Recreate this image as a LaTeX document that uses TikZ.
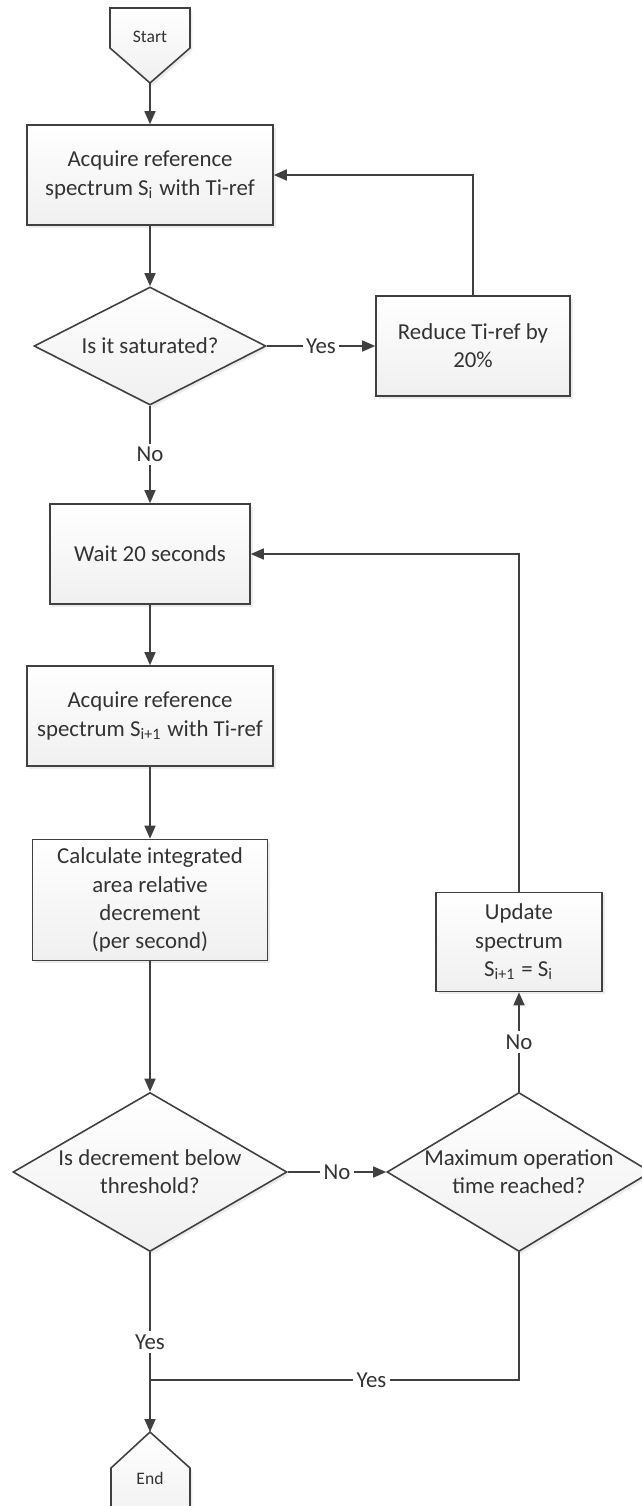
\documentclass[tikz,border=0pt]{standalone}
\usepackage{fontspec}
\setmainfont{Carlito}
\usetikzlibrary{shapes.geometric,arrows.meta,shadows}

\definecolor{linegray}{HTML}{404040}
\definecolor{textgray}{HTML}{333333}

\tikzset{
	flow/.style={draw=linegray, line width=0.45pt, top color=white, bottom color=gray!12,
		drop shadow={shadow xshift=0.025cm, shadow yshift=-0.025cm, opacity=0.15}},
	process/.style={flow, rectangle, inner sep=0pt, align=center, text=textgray, minimum height=1cm},
	decision/.style={flow, diamond, inner sep=0pt},
	dtext/.style={align=center, text=textgray, inner sep=0pt},
	arrow/.style={draw=linegray, line width=0.45pt, -{Triangle[length=1.3mm,width=1.1mm]}},
	link/.style={draw=linegray, line width=0.45pt},
	answer/.style={fill=white, inner sep=1pt, text=textgray},
	terminal/.style={text=textgray, font=\fontsize{5}{6}\selectfont}
}

\begin{document}
\begin{tikzpicture}[font=\fontsize{6.5}{8}\selectfont]
		\useasboundingbox (0,0) rectangle (6.42,-15.06);

		\draw[flow] (1.10,-0.08) -- (1.90,-0.08) -- (1.90,-0.48) -- (1.50,-0.83) -- (1.10,-0.48) -- cycle;
		\node[terminal] (start) at (1.5,-0.37) {Start};
		\coordinate (starttip) at (1.5,-0.83);

		\node[process, minimum width=2.46cm] (acq) at (1.5,-1.75) {Acquire reference\\spectrum S\textsubscript{i} with Ti-ref};
		\node[decision, minimum width=2.32cm, minimum height=1.18cm,
			label={[dtext]center:Is it saturated?}] (sat) at (1.5,-3.46) {};
		\node[process, minimum width=1.94cm] (reduce) at (4.73,-3.46) {Reduce Ti-ref by\\20\%};
		\node[process, minimum width=2.00cm] (wait) at (1.5,-5.54) {Wait 20 seconds};
		\node[process, minimum width=2.46cm] (acqnext) at (1.5,-7.16) {Acquire reference\\spectrum S\textsubscript{i+1} with Ti-ref};
		\node[process, minimum width=2.35cm, minimum height=1.21cm] (calc) at (1.5,-9.0) {Calculate integrated\\area relative\\decrement\\(per second)};
		\node[decision, minimum width=2.74cm, minimum height=1.59cm,
			label={[dtext]center:Is decrement below\\threshold?}] (dec) at (1.5,-11.72) {};
		\node[decision, minimum width=2.64cm, minimum height=1.59cm,
			label={[dtext]center:Maximum operation\\time reached?}] (max) at (5.19,-11.72) {};
		\node[process, minimum width=1.66cm, minimum height=0.99cm] (update) at (5.19,-9.42) {Update\\spectrum\\S\textsubscript{i+1} = S\textsubscript{i}};

		\coordinate (join) at (1.5,-13.80);
		\coordinate (endtip) at (1.5,-14.32);
		\draw[flow] (1.11,-15.30) -- (1.11,-14.68) -- (1.50,-14.32) -- (1.90,-14.68) -- (1.90,-15.30) -- cycle;
		\node[terminal] (end) at (1.5,-14.78) {End};

		\draw[arrow] (starttip) -- (acq);
		\draw[arrow] (acq) -- (sat);
		\draw[arrow] (sat) -- node[answer] {Yes} (reduce);
		\draw[arrow] (reduce.north) |- (acq.east);
		\draw[arrow] (sat) -- node[answer] {No} (wait);
		\draw[arrow] (wait) -- (acqnext);
		\draw[arrow] (acqnext) -- (calc);
		\draw[arrow] (calc) -- (dec);
		\draw[arrow] (dec) -- node[answer] {No} (max);
		\draw[arrow] (max) -- node[answer] {No} (update);
		\draw[arrow] (update.north) |- (wait.east);
		\draw[arrow] (dec) -- node[answer] {Yes} (endtip);
		\draw[link] (max.south) |- node[answer, pos=0.7] {Yes} (join);
\end{tikzpicture}
\end{document}
